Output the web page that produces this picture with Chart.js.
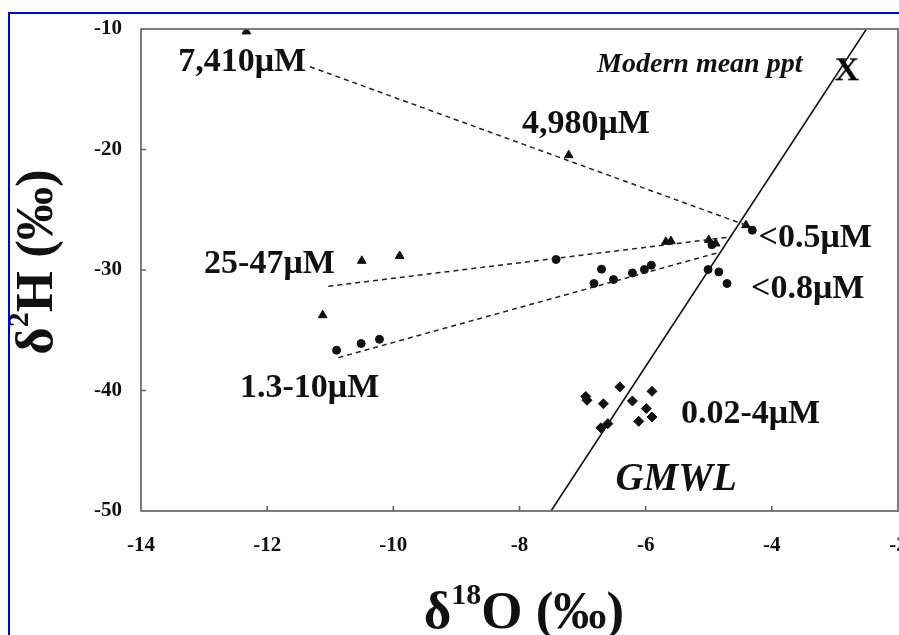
<!DOCTYPE html>
<html>
<head>
<meta charset="utf-8">
<script src="https://cdn.jsdelivr.net/npm/chart.js@4/dist/chart.umd.min.js"></script>
<style>
  html, body { margin: 0; padding: 0; background: #fff; overflow: hidden; }
  #wrap { position: relative; width: 915px; height: 635px; }
  #frame { position: absolute; left: 8px; top: 12px; width: 1000px; height: 700px;
           border-left: 2px solid #0000f0; border-top: 2px solid #0000f0; }
  #chart { position: absolute; left: 0; top: 0; }
</style>
</head>
<body>
<div id="wrap">
  <div id="frame"></div>
  <canvas id="chart" width="915" height="635"></canvas>
</div>
<script>
// isotope data (d18O, d2H in permil)
const triX = [-12.33, -7.22, -4.41, -10.50, -9.90, -11.12, -5.68, -5.60, -5.00, -4.89];
const triY = [-10.2, -20.47, -26.28, -29.24, -28.83, -33.75, -27.66, -27.60, -27.50, -27.80];
const circX = [-4.31, -7.42, -6.70, -6.82, -6.51, -6.21, -6.02, -5.91, -5.01, -4.84, -4.71, -4.95, -10.90, -10.51, -10.22];
const circY = [-26.7, -29.13, -29.93, -31.12, -30.79, -30.24, -29.96, -29.60, -29.96, -30.16, -31.12, -27.90, -36.66, -36.10, -35.75];
const diaX = [-6.95, -6.93, -6.67, -6.41, -6.21, -5.90, -5.99, -5.90, -6.11, -6.60, -6.71];
const diaY = [-40.50, -40.81, -41.10, -39.70, -40.87, -40.07, -41.50, -42.20, -42.56, -42.75, -43.10];

// mixing lines (start, end)
const mix1X = [-11.32, -4.40], mix1Y = [-13.13, -26.30];
const mix2X = [-11.03, -4.65], mix2Y = [-31.35, -27.25];
const mix3X = [-10.87, -4.81], mix3Y = [-37.27, -28.50];

// global meteoric water line
const gmwlX = [-7.5, -2.5], gmwlY = [-50, -10];

// modern mean precipitation
const pptX = [-2.81], pptY = [-13.26];

// text labels
const labelText = ['7,410\u03bcM', '4,980\u03bcM', '25-47\u03bcM', '<0.5\u03bcM', '<0.8\u03bcM', '1.3-10\u03bcM', '0.02-4\u03bcM'];
const labelX = [-13.41, -7.96, -13.0, -4.21, -4.33, -12.43, -5.44];
const labelY = [-13.49, -18.64, -30.27, -28.11, -32.34, -40.54, -42.67];
const noteText = ['Modern mean ppt', 'GMWL'];
const noteX = [-6.77, -6.48];
const noteY = [-13.55, -48.29];

const xTicks = [-14, -12, -10, -8, -6, -4, -2];
const yTicks = [-10, -20, -30, -40, -50];

const SERIF = "'Liberation Serif', 'Times New Roman', serif";

function pts(xs, ys) {
    return xs.map(function(x, i) { return { x: x, y: ys[i] }; });
}

// "X" marker glyph for the modern precipitation point
const xMark = document.createElement('canvas');
xMark.width = 30; xMark.height = 30;
(function() {
    const c = xMark.getContext('2d');
    c.fillStyle = '#000';
    c.font = 'bold 34px ' + SERIF;
    c.textAlign = 'center';
    c.textBaseline = 'alphabetic';
    c.fillText('X', 15, 27);
})();

// keep tick labels from pushing the plot area inward
function noPad(scale) {
    scale.paddingLeft = 0;
    scale.paddingRight = 0;
    scale.paddingTop = 0;
    scale.paddingBottom = 0;
}

const decor = {
    id: 'decor',
    afterDatasetsDraw: function(chart) {
        const ctx = chart.ctx;
        const a = chart.chartArea;
        const xs = chart.scales.x, ys = chart.scales.y;
        ctx.save();
        // frame + inner ticks
        ctx.strokeStyle = '#666';
        ctx.lineWidth = 1.7;
        ctx.strokeRect(a.left, a.top, a.right - a.left, a.bottom - a.top);
        ctx.beginPath();
        xTicks.slice(1, -1).forEach(function(v) {
            const px = xs.getPixelForValue(v);
            ctx.moveTo(px, a.bottom); ctx.lineTo(px, a.bottom - 5);
        });
        yTicks.slice(1, -1).forEach(function(v) {
            const py = ys.getPixelForValue(v);
            ctx.moveTo(a.left, py); ctx.lineTo(a.left + 5, py);
        });
        ctx.stroke();

        ctx.fillStyle = '#111';
        ctx.textAlign = 'left';
        ctx.textBaseline = 'alphabetic';
        ctx.font = 'bold 34px ' + SERIF;
        labelText.forEach(function(t, i) {
            ctx.fillText(t, xs.getPixelForValue(labelX[i]), ys.getPixelForValue(labelY[i]));
        });
        ctx.font = 'italic bold 28px ' + SERIF;
        ctx.fillText(noteText[0], xs.getPixelForValue(noteX[0]), ys.getPixelForValue(noteY[0]));
        ctx.font = 'italic bold 39px ' + SERIF;
        ctx.fillText(noteText[1], xs.getPixelForValue(noteX[1]), ys.getPixelForValue(noteY[1]));

        // axis titles with superscripts
        function title(pre, sup, post, big, small, rise) {
            ctx.font = 'bold ' + big + 'px ' + SERIF;
            const w1 = ctx.measureText(pre).width;
            const w3 = ctx.measureText(post).width;
            ctx.font = 'bold ' + small + 'px ' + SERIF;
            const w2 = ctx.measureText(sup).width;
            let x = -(w1 + w2 + w3) / 2;
            ctx.font = 'bold ' + big + 'px ' + SERIF;
            ctx.fillText(pre, x, 0);
            x += w1;
            ctx.font = 'bold ' + small + 'px ' + SERIF;
            ctx.fillText(sup, x, -rise);
            x += w2;
            ctx.font = 'bold ' + big + 'px ' + SERIF;
            ctx.fillText(post, x, 0);
        }
        ctx.save();
        ctx.translate(524, 628);
        title('\u03b4', '18', 'O (\u2030)', 53, 30, 24);
        ctx.restore();
        ctx.save();
        ctx.translate(52, 262);
        ctx.rotate(-Math.PI / 2);
        title('\u03b4', '2', 'H (\u2030)', 53, 30, 24);
        ctx.restore();
        ctx.restore();
    }
};

const dashed = { borderColor: '#222', borderWidth: 1.5, borderDash: [5, 4], pointRadius: 0, showLine: true, fill: false };

new Chart(document.getElementById('chart'), {
    type: 'scatter',
    data: {
        datasets: [
            Object.assign({ label: 'mix1', data: pts(mix1X, mix1Y) }, dashed),
            Object.assign({ label: 'mix2', data: pts(mix2X, mix2Y) }, dashed),
            Object.assign({ label: 'mix3', data: pts(mix3X, mix3Y) }, dashed),
            {
                label: 'GMWL',
                data: pts(gmwlX, gmwlY),
                showLine: true,
                borderColor: '#111',
                borderWidth: 1.6,
                pointRadius: 0
            },
            {
                label: 'triangles',
                data: pts(triX, triY),
                pointStyle: 'triangle',
                pointRadius: 5,
                backgroundColor: '#111',
                borderColor: '#111',
                borderWidth: 1
            },
            {
                label: 'circles',
                data: pts(circX, circY),
                pointStyle: 'circle',
                pointRadius: 4,
                backgroundColor: '#111',
                borderColor: '#111',
                borderWidth: 1
            },
            {
                label: 'diamonds',
                data: pts(diaX, diaY),
                pointStyle: 'rectRot',
                pointRadius: 5,
                backgroundColor: '#111',
                borderColor: '#111',
                borderWidth: 1
            },
            {
                label: 'Modern mean ppt',
                data: pts(pptX, pptY),
                pointStyle: xMark,
                pointRadius: 12
            }
        ]
    },
    options: {
        responsive: false,
        animation: false,
        layout: { padding: { top: 29, right: 17, bottom: 0, left: 0 } },
        plugins: {
            legend: { display: false },
            tooltip: { enabled: false }
        },
        scales: {
            x: {
                type: 'linear',
                min: -14,
                max: -2,
                afterBuildTicks: function(scale) {
                    scale.ticks = xTicks.map(function(v) { return { value: v }; });
                },
                afterFit: function(scale) { scale.height = 124; noPad(scale); },
                border: { display: false },
                grid: { drawOnChartArea: false, drawTicks: false },
                ticks: {
                    padding: 22,
                    color: '#111',
                    maxRotation: 0,
                    font: { family: SERIF, size: 21, weight: 'bold' }
                }
            },
            y: {
                type: 'linear',
                min: -50,
                max: -10,
                afterBuildTicks: function(scale) {
                    scale.ticks = yTicks.map(function(v) { return { value: v }; });
                },
                afterFit: function(scale) { scale.width = 141; noPad(scale); },
                border: { display: false },
                grid: { drawOnChartArea: false, drawTicks: false },
                ticks: {
                    padding: 19,
                    color: '#111',
                    font: { family: SERIF, size: 21, weight: 'bold' }
                }
            }
        }
    },
    plugins: [decor]
});
</script>
</body>
</html>
